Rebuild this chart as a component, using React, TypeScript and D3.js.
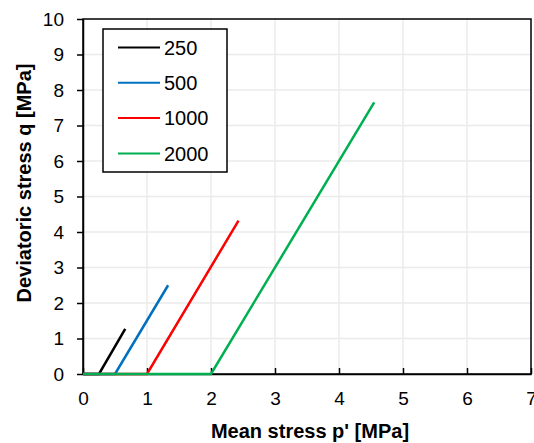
import React, { useEffect, useRef } from 'react';
import * as d3 from 'd3';

// confining pressure labels
const seriesNames = ['250', '500', '1000', '2000'];
const seriesColors = ['#000000', '#0070C0', '#FF0000', '#00B050'];
// p' [MPa] and q [MPa] points per series (isotropic part along the axis, then shearing)
const pValues = [
  [0, 0.25, 0.66],
  [0, 0.5, 1.33],
  [0, 1.0, 2.43],
  [0, 2.0, 4.55],
];
const qValues = [
  [0, 0, 1.27],
  [0, 0, 2.5],
  [0, 0, 4.32],
  [0, 0, 7.65],
];
const xTicks = [0, 1, 2, 3, 4, 5, 6, 7];
const yTicks = [0, 1, 2, 3, 4, 5, 6, 7, 8, 9, 10];

const App = () => {
  const svgRef = useRef(null);

  useEffect(() => {
    const svg = d3.select(svgRef.current);
    svg.selectAll('*').remove();

    const width = 534;
    const height = 443;
    const margin = { top: 19, right: 3, bottom: 69, left: 83 };
    const font = 'Liberation Sans, Arial, sans-serif';

    const x = d3.scaleLinear().domain([0, 7]).range([margin.left, width - margin.right]);
    const y = d3.scaleLinear().domain([0, 10]).range([height - margin.bottom, margin.top]);

    // grid
    svg.append('g')
      .selectAll('line')
      .data(xTicks.slice(1, -1))
      .enter().append('line')
      .attr('x1', d => x(d)).attr('x2', d => x(d))
      .attr('y1', y(0)).attr('y2', y(10))
      .attr('stroke', '#ebebeb').attr('stroke-width', 1.5);
    svg.append('g')
      .selectAll('line')
      .data(yTicks.slice(1, -1))
      .enter().append('line')
      .attr('x1', x(0)).attr('x2', x(7))
      .attr('y1', d => y(d)).attr('y2', d => y(d))
      .attr('stroke', '#ebebeb').attr('stroke-width', 1.5);

    // frame
    svg.append('rect')
      .attr('x', x(0)).attr('y', y(10))
      .attr('width', x(7) - x(0)).attr('height', y(0) - y(10))
      .attr('fill', 'none').attr('stroke', '#000').attr('stroke-width', 1.5);

    // x axis: ticks inside
    const xAxis = svg.append('g')
      .attr('transform', `translate(0, ${y(0)})`)
      .call(d3.axisBottom(x).tickValues(xTicks).tickFormat(d3.format('d'))
        .tickSizeInner(-6).tickSizeOuter(0).tickPadding(18));
    xAxis.select('.domain').attr('stroke-width', 1.5);
    xAxis.selectAll('.tick line').attr('stroke-width', 1.5);
    xAxis.selectAll('text').attr('font-size', 19).attr('font-family', font).attr('fill', '#000');

    // y axis: ticks outside
    const yAxis = svg.append('g')
      .attr('transform', `translate(${x(0)}, 0)`)
      .call(d3.axisLeft(y).tickValues(yTicks).tickFormat(d3.format('d'))
        .tickSizeInner(6).tickSizeOuter(0).tickPadding(13));
    yAxis.select('.domain').attr('stroke-width', 1.5);
    yAxis.selectAll('.tick line').attr('stroke-width', 1.5);
    yAxis.selectAll('text').attr('font-size', 19).attr('font-family', font).attr('fill', '#000');

    const line = d3.line()
      .x(d => x(d[0]))
      .y(d => y(d[1]));

    seriesNames.forEach((name, i) => {
      const pts = pValues[i].map((p, j) => [p, qValues[i][j]]);
      svg.append('path')
        .datum(pts)
        .attr('fill', 'none')
        .attr('stroke', seriesColors[i])
        .attr('stroke-width', 2.5)
        .attr('d', line);
    });

    // legend
    const legend = svg.append('g').attr('transform', 'translate(103, 29)');
    legend.append('rect')
      .attr('width', 124).attr('height', 143)
      .attr('fill', '#fff').attr('stroke', '#000').attr('stroke-width', 1.5);
    seriesNames.forEach((name, i) => {
      const cy = 18.5 + i * 35.3;
      legend.append('line')
        .attr('x1', 15).attr('x2', 57)
        .attr('y1', cy).attr('y2', cy)
        .attr('stroke', seriesColors[i]).attr('stroke-width', 2);
      legend.append('text')
        .attr('x', 61).attr('y', cy)
        .attr('dy', '0.36em')
        .attr('font-size', 20).attr('font-family', font)
        .text(name);
    });

    // axis titles
    svg.append('text')
      .attr('x', 310).attr('y', 438)
      .attr('text-anchor', 'middle')
      .attr('font-size', 20).attr('font-weight', 'bold').attr('font-family', font)
      .text("Mean stress p' [MPa]");

    svg.append('text')
      .attr('transform', `translate(31, 183) rotate(-90)`)
      .attr('text-anchor', 'middle')
      .attr('font-size', 20).attr('font-weight', 'bold').attr('font-family', font)
      .text('Deviatoric stress q [MPa]');
  }, []);

  return (
    <svg ref={svgRef} width={534} height={443}
      style={{ position: 'absolute', left: 0, top: 0, background: '#fff' }} />
  );
};

export default App;
